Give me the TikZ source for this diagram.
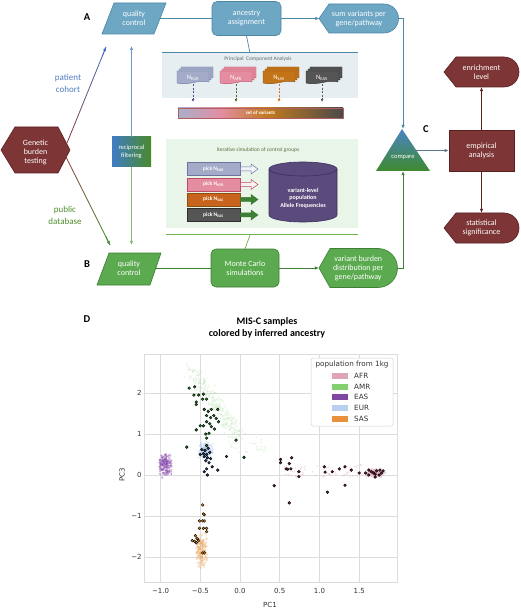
\documentclass[tikz,border=0pt]{standalone}
\usepackage{fontspec}
\setmainfont{Carlito}
\newfontfamily\dejavu{DejaVu Sans}
\usetikzlibrary{arrows.meta,calc}

\definecolor{bfill}{HTML}{6DA7C4}
\definecolor{bline}{HTML}{4B86A6}
\definecolor{gfill}{HTML}{5BAA4F}
\definecolor{gline}{HTML}{3D7F35}
\definecolor{rfill}{HTML}{7D3535}
\definecolor{rline}{HTML}{5A2020}
\definecolor{pcabg}{HTML}{E6EEF1}
\definecolor{simbg}{HTML}{E9F5E8}
\definecolor{simline}{HTML}{6DB04E}
\definecolor{simtxt}{HTML}{5A7040}
\definecolor{eurF}{HTML}{A3ABC9}
\definecolor{eurD}{HTML}{6C74A4}
\definecolor{eurAF}{HTML}{F0F3F8}
\definecolor{afrF}{HTML}{E48CA0}
\definecolor{afrD}{HTML}{C04A68}
\definecolor{afrAF}{HTML}{FBEFF2}
\definecolor{sasF}{HTML}{C47418}
\definecolor{sasP}{HTML}{C8641E}
\definecolor{sasD}{HTML}{8A5010}
\definecolor{easF}{HTML}{555555}
\definecolor{easD}{HTML}{2E2E2E}
\definecolor{cylF}{HTML}{5B4A7C}
\definecolor{cylD}{HTML}{3C2E5C}
\definecolor{vbA}{HTML}{A8B0CC}
\definecolor{vbB}{HTML}{E28EA2}
\definecolor{vbC}{HTML}{C27A1E}
\definecolor{vbD}{HTML}{4A4A4A}
\definecolor{barD}{HTML}{B06060}
\definecolor{cblue}{HTML}{4F7EC0}
\definecolor{cgreen}{HTML}{4E8E2E}
\definecolor{redA}{HTML}{8A3A3A}
\definecolor{blueA}{HTML}{3F6FC0}
\definecolor{greenA}{HTML}{3E8A2A}
\definecolor{cmpB}{HTML}{4A84C4}
\definecolor{cmpG}{HTML}{3E8A2E}
\definecolor{cmpArrow}{HTML}{5C7A8E}
\definecolor{recB}{HTML}{3F7CC4}
\definecolor{recG}{HTML}{4A8A2A}
\definecolor{recArrB}{HTML}{6A9AD0}
\definecolor{recArrG}{HTML}{80C070}
\definecolor{dEURa}{HTML}{5A4A8A}
\definecolor{dAFRa}{HTML}{4A6A20}
\definecolor{dSASa}{HTML}{D07020}
\definecolor{dEASa}{HTML}{505A60}
\definecolor{gridc}{HTML}{DCDCDC}
\definecolor{tickc}{HTML}{333333}
\definecolor{legD}{HTML}{D0D0D0}
\definecolor{lAFR}{HTML}{DFA4B5}
\definecolor{lAMR}{HTML}{84D070}
\definecolor{lEAS}{HTML}{8048A0}
\definecolor{lEUR}{HTML}{B8D0EC}
\definecolor{lSAS}{HTML}{E8903A}
\definecolor{cAFR}{HTML}{E0A0B4}
\definecolor{cAMR}{HTML}{98D888}
\definecolor{cEAS}{HTML}{8A50B0}
\definecolor{cEUR}{HTML}{A8C4E8}
\definecolor{cSAS}{HTML}{ECA050}
\definecolor{dAMR}{HTML}{1E7A1E}
\definecolor{dEUR}{HTML}{1E3A6A}
\definecolor{dSAS}{HTML}{E08A20}
\definecolor{dAFR}{HTML}{6A1E36}

\pgfdeclarehorizontalshading{varbar}{100bp}{color(0bp)=(vbA); color(25bp)=(vbA); color(38bp)=(vbB); color(52bp)=(vbC); color(75bp)=(vbD); color(100bp)=(vbD)}

\newcommand\mycard[4]{\filldraw[fill=#3,draw=#4,line width=0.4pt] ({#1},{#2}) -- ({#1+32},{#2}) -- ({#1+32},{#2+11}) .. controls ({#1+22},{#2+8}) and ({#1+12},{#2+15}) .. ({#1},{#2+12}) -- cycle;}

\begin{document}
\begin{tikzpicture}[x=1pt,y=-1pt,
  txt/.style={text=white,align=center,inner sep=0pt,font=\fontsize{8}{9}\selectfont},
  arr/.style={-{Latex[length=4pt,width=3.4pt]},line width=0.7pt},
  darr/.style={-{Latex[length=3pt,width=3pt]},line width=0.8pt,dash pattern=on 2pt off 1.5pt},
  lbl/.style={font=\fontsize{10.5}{12}\selectfont\bfseries},
  tiny/.style={font=\fontsize{5.5}{6}\selectfont},
  pick/.style={minimum width=53pt,minimum height=13pt,inner sep=0pt,line width=0.6pt,text=white,font=\fontsize{5.5}{6}\selectfont\bfseries},
  tick/.style={font=\dejavu\fontsize{7}{8}\selectfont,text=tickc,inner sep=0pt},
  cloud/.style={opacity=0.3},
  samp/.style={draw=black,line width=0.4pt},
]
\useasboundingbox (0,0) rectangle (520,609);
\fill[white] (0,0) rectangle (520,609);

% ---------- panel labels
\node[lbl] (lA) at (87,17) {A};
\node[lbl] (lB) at (87,264) {B};
\node[lbl] (lC) at (426,129) {C};
\node[lbl] (lD) at (87,319) {D};

% ---------- PCA panel
\node[fill=pcabg,minimum width=196pt,minimum height=45pt,inner sep=0pt] (pca) at (260,75.5) {};
\draw[bline,line width=1.2pt] (pca.north west) -- (pca.north east);
\node[tiny,text=black!60] (pcaT) at (258,59) {Principal\ \ Component Analysis};
\foreach \x/\f/\d/\n/\ac in {177/eurF/eurD/EUR/dEURa, 220/afrF/afrD/AFR/dAFRa, 263/sasF/sasD/SAS/dSASa, 306/easF/easD/EAS/dEASa}{
  \mycard{\x+4}{67}{\f}{\d}
  \mycard{\x+2}{69}{\f}{\d}
  \mycard{\x}{71}{\f}{\d}
  \node[text=white,font=\fontsize{6.5}{7}\selectfont,minimum width=32pt,minimum height=13pt,inner sep=0pt] (n\n) at ({\x+16},77.5) {N\textsubscript{\n}};
  \coordinate (e\n) at ({\x+16},102);
  \draw[darr,\ac] (n\n.south) -- (e\n);
}
\node[shade,shading=varbar,draw=barD,line width=0.5pt,minimum width=165pt,minimum height=10pt,inner sep=0pt,text=white,font=\fontsize{5}{6}\selectfont\bfseries] (bar) at (260.5,113) {set of variants};

% ---------- simulation panel
\node[fill=simbg,minimum width=192pt,minimum height=89pt,inner sep=0pt] (sim) at (262,183.5) {};
\draw[simline,line width=1.2pt] ([yshift=-6pt]sim.south west) -- ([yshift=-6pt]sim.south east);
\node[tiny,text=simtxt] (simT) at (258,150) {iterative simulation of control groups};
\foreach \n/\y/\f/\d/\af/\ad in {EUR/169/eurF/eurD/eurAF/eurD, AFR/184.5/afrF/afrD/afrAF/afrD, SAS/199.5/sasP/sasD/gline/gline, EAS/215/easF/easD/gline/gline}{
  \node[pick,fill=\f,draw=\d] (p\n) at (213.5,\y) {pick N\textsubscript{\n}};
  \filldraw[fill=\af,draw=\ad,line width=0.5pt] (240.5,{\y-2}) -- (251,{\y-2}) -- (251,{\y-5}) -- (258,\y) -- (251,{\y+5}) -- (251,{\y+2}) -- (240.5,{\y+2}) -- cycle;
}
% cylinder
\fill[cylF] (269,169) -- (269,215) .. controls (269,218.9) and (284.2,222) .. (303,222) .. controls (321.8,222) and (337,218.9) .. (337,215) -- (337,169) -- cycle;
\draw[cylD,line width=0.6pt] (269,169) -- (269,215) .. controls (269,218.9) and (284.2,222) .. (303,222) .. controls (321.8,222) and (337,218.9) .. (337,215) -- (337,169);
\filldraw[fill=cylF,draw=cylD,line width=0.6pt] (303,169) ellipse[x radius=34,y radius=7];
\node[text=white,font=\fontsize{6}{7.5}\selectfont\bfseries,align=center,inner sep=0pt] (cyl) at (303,198) {variant-level\\population\\Allele Frequencies};

% ---------- top row
\filldraw[fill=bfill,draw=bline,line width=0.6pt] (102,34) -- (114,3) -- (166,3) -- (154,34) -- cycle;
\node[txt,minimum width=52pt,minimum height=31pt] (qcA) at (134,18.5) {quality\\control};
\node[txt,draw=bline,fill=bfill,line width=0.6pt,rounded corners=5pt,minimum width=69pt,minimum height=34pt] (anc) at (246.5,18.5) {ancestry\\assignment};
\filldraw[fill=bfill,draw=bline,line width=0.6pt] (319,18.5) -- (329,4) -- (384,4) .. controls (392,4) and (398.5,10.5) .. (398.5,18.5) .. controls (398.5,26.5) and (392,33) .. (384,33) -- (329,33) -- cycle;
\node[txt,minimum width=79pt,minimum height=29pt] (sumA) at (359,18.5) {sum variants per\\gene/pathway};
\coordinate (pcaIn) at (250,53);
\draw[bline,line width=0.7pt] (anc.south) -- (pcaIn);
\draw[bline,line width=0.7pt] (qcA.east) -- (anc.west);
\draw[arr,bline] (anc.east) -- (sumA.west);

% ---------- compare
\shade[top color=cmpB,bottom color=cmpG] (402,129) -- (430,171) -- (376,171) -- cycle;
\node[minimum width=54pt,minimum height=42pt,inner sep=0pt] (cmp) at (403,150) {};
\node[txt,font=\fontsize{6.5}{7}\selectfont] (cmpT) at (403,157) {compare};
\coordinate (cmpR) at (416,150.5);
\draw[arr,bline] (sumA.east) -| (cmp.north);

% ---------- C side
\node[txt,draw=rline,fill=rfill,line width=0.6pt,minimum width=65pt,minimum height=41pt] (emp) at (481.5,150.5) {empirical\\analysis};
\draw[arr,cmpArrow] (cmpR) -- (emp.west);
\filldraw[fill=rfill,draw=rline,line width=0.6pt] (444,72) -- (456,57) -- (504,57) .. controls (512.3,57) and (519,63.7) .. (519,72) .. controls (519,80.3) and (512.3,87) .. (504,87) -- (456,87) -- cycle;
\node[txt,minimum width=74pt,minimum height=30pt] (enr) at (481.5,72) {enrichment\\level};
\filldraw[fill=rfill,draw=rline,line width=0.6pt] (444,228) -- (456,213) -- (504,213) .. controls (512.3,213) and (519,219.7) .. (519,228) .. controls (519,236.3) and (512.3,243) .. (504,243) -- (456,243) -- cycle;
\node[txt,minimum width=74pt,minimum height=30pt] (stat) at (481.5,228) {statistical\\significance};
\draw[arr,rline] (emp.north) -- (enr.south);
\draw[arr,rline] (emp.south) -- (stat.north);

% ---------- genetic burden testing
\filldraw[fill=rfill,draw=rline,line width=0.6pt] (1,150) -- (15,127) -- (58,127) -- (70,150) -- (58,173) -- (15,173) -- cycle;
\node[txt] (gen) at (35.5,152) {Genetic\\burden\\testing};
\coordinate (gA) at (67,143);
\coordinate (qA) at (106,47);
\coordinate (gB) at (66,157);
\coordinate (qB) at (110,245);
\foreach \i in {0,...,11}{
  \pgfmathsetmacro\ta{\i/12}
  \pgfmathsetmacro\tb{(\i+1)/12}
  \pgfmathtruncatemacro\mixp{100*(\i+0.5)/12}
  \draw[line width=0.8pt,line cap=round,color=blueA!\mixp!redA] ($(gA)!\ta!(qA)$) -- ($(gA)!\tb!(qA)$);
  \draw[line width=0.8pt,line cap=round,color=greenA!\mixp!redA] ($(gB)!\ta!(qB)$) -- ($(gB)!\tb!(qB)$);
}
\draw[arr,blueA] ($(gA)!0.9!(qA)$) -- (qA);
\draw[arr,greenA] ($(gB)!0.9!(qB)$) -- (qB);
\node[font=\fontsize{9}{12}\selectfont,text=cblue,align=center] (pc) at (68,83) {patient\\cohort};
\node[font=\fontsize{9}{12}\selectfont,text=cgreen,align=center] (pdb) at (65,215) {public\\database};

% ---------- reciprocal filtering
\node[txt,font=\fontsize{6.5}{8}\selectfont,left color=recB,right color=recG,minimum width=39pt,minimum height=30pt] (rec) at (131.5,152) {reciprocal\\filtering};
\coordinate (rqA) at (131.5,46);
\coordinate (rqB) at (131.5,245);
\draw[arr,recArrB] (rec.north) -- (rqA);
\draw[arr,recArrG] (rec.south) -- (rqB);

% ---------- bottom row
\filldraw[fill=gfill,draw=gline,line width=0.6pt] (97,285) -- (109,253) -- (161,253) -- (150,285) -- cycle;
\node[txt,minimum width=52pt,minimum height=32pt] (qcB) at (129,268) {quality\\control};
\node[txt,draw=gline,fill=gfill,line width=0.6pt,rounded corners=5pt,minimum width=68pt,minimum height=38pt] (mc) at (245,268) {Monte Carlo\\simulations};
\filldraw[fill=gfill,draw=gline,line width=0.6pt] (319,268) -- (330,248.5) -- (378,248.5) .. controls (388.8,248.5) and (397.5,257.2) .. (397.5,268) .. controls (397.5,278.8) and (388.8,287.5) .. (378,287.5) -- (330,287.5) -- cycle;
\node[txt,minimum width=78.5pt,minimum height=39pt] (vb) at (358.25,268) {variant burden\\distribution per\\gene/pathway};
\coordinate (simIn) at (250,235);
\draw[simline,line width=0.7pt] (mc.north) -- (simIn);
\draw[gline,line width=0.7pt] (qcB.east) -- (mc.west);
\draw[arr,gline] (mc.east) -- (vb.west);
\draw[arr,gline] (vb.east) -| (cmp.south);

% ---------- panel D
\node[font=\fontsize{10}{12}\selectfont\bfseries,align=center] (title) at (267,328) {MIS-C samples\\colored by inferred ancestry};

\begin{scope}[shift={(240pt,-475pt)},x=79.5pt,y=41pt]
  \foreach \gx in {-1,-0.5,...,1.5} \draw[gridc,line width=0.8pt] (\gx,-2.61) -- (\gx,2.95);
  \foreach \gy in {-2,...,2} \draw[gridc,line width=0.8pt] (-1.208,\gy) -- (1.975,\gy);
  \draw[gridc,line width=0.8pt] (-1.208,-2.61) rectangle (1.975,2.95);
  \begin{scope}
    \clip (-1.208,-2.61) rectangle (1.975,2.95);
    \pgfmathsetseed{7}
    % AMR cloud
    \foreach \i in {1,...,260}{
      \pgfmathsetmacro\tt{(rand+1)/2}
      \pgfmathsetmacro\px{-0.62+0.62*\tt+0.06*(rand+rand)}
      \pgfmathsetmacro\py{2.55-1.65*\tt+0.12*(rand+rand)}
      \fill[cAMR,opacity=0.22] (\px,\py) circle[radius=1pt];
    }
    \foreach \i in {1,...,30}{
      \pgfmathsetmacro\px{0.1+0.25*rand}
      \pgfmathsetmacro\py{0.75+0.2*rand}
      \fill[cAMR,opacity=0.22] (\px,\py) circle[radius=1pt];
    }
    % EAS cloud
    \foreach \i in {1,...,240}{
      \pgfmathsetmacro\px{-0.94+0.06*rand+0.03*rand}
      \pgfmathsetmacro\py{0.25+0.17*(rand+rand)}
      \fill[cEAS,opacity=0.4] (\px,\py) circle[radius=1pt];
    }
    % SAS cloud
    \foreach \i in {1,...,220}{
      \pgfmathsetmacro\px{-0.48+0.04*(rand+rand)}
      \pgfmathsetmacro\py{-1.85+0.24*(rand+rand)}
      \fill[cSAS,cloud] (\px,\py) circle[radius=1pt];
    }
    % EUR cloud
    \foreach \i in {1,...,160}{
      \pgfmathsetmacro\px{-0.43+0.05*(rand+rand)}
      \pgfmathsetmacro\py{0.6+0.12*(rand+rand)}
      \fill[cEUR,opacity=0.4] (\px,\py) circle[radius=1pt];
    }
    % AFR cloud
    \foreach \i in {1,...,170}{
      \pgfmathsetmacro\px{1.7+0.07*(rand+rand)}
      \pgfmathsetmacro\py{0.05+0.06*(rand+rand)}
      \fill[cAFR,cloud] (\px,\py) circle[radius=1pt];
    }
    \foreach \i in {1,...,60}{
      \pgfmathsetmacro\px{1.05+0.5*rand}
      \pgfmathsetmacro\py{0.1+0.15*rand}
      \fill[cAFR,cloud] (\px,\py) circle[radius=1pt];
    }
    % samples
    \foreach \a/\b in {-0.57/2.15,-0.64/2.12,-0.58/1.95,-0.52/1.95,-0.46/1.97,-0.42/1.85,-0.47/1.85,-0.55/1.78,-0.55/1.72,-0.45/1.6,-0.40/1.55,-0.36/1.6,-0.28/1.6,-0.42/1.45,-0.37/1.4,-0.33/1.45,-0.30/1.38,-0.42/1.3,-0.38/1.25,-0.27/1.3,-0.46/1.2,-0.36/1.18,-0.32/1.12,-0.55/1.1,-0.5/1.2,-0.43/1.0,-0.39/1.02,-0.42/0.9,-0.67/0.68,-0.05/0.85,0.05/0.43,-0.42/0.72}
      \filldraw[fill=dAMR,samp] (\a,\b) circle[radius=1.4pt];
    \foreach \a/\b in {-0.48/0.62,-0.44/0.6,-0.40/0.65,-0.46/0.52,-0.42/0.5,-0.38/0.55,-0.5/0.5,-0.45/0.45,-0.41/0.42,-0.37/0.4,-0.43/0.35,-0.39/0.3,-0.35/0.2,-0.42/0.15,-0.45/0.08,-0.41/0.0,-0.28/0.12,-0.17/0.45}
      \filldraw[fill=dEUR,samp] (\a,\b) circle[radius=1.4pt];
    \foreach \a/\b in {-0.47/-0.73,-0.45/-0.97,-0.46/-0.95,-0.51/-1.12,-0.47/-1.12,-0.45/-1.12,-0.46/-1.3,-0.42/-1.3,-0.42/-1.38,-0.51/-1.3,-0.56/-1.48,-0.54/-1.55,-0.60/-1.6,-0.57/-1.62,-0.55/-1.65,-0.52/-1.6,-0.47/-1.9,-0.45/-1.9}
      \filldraw[fill=dSAS,samp] (\a,\b) circle[radius=1.4pt];
    \foreach \a/\b in {0.51/0.38,0.51/0.3,0.58/0.15,0.6/0.14,0.62/0.28,0.65/0.42,0.64/0.15,0.74/0.08,0.74/-0.04,0.43/-0.26,0.62/-0.68,1.06/0.2,1.07/0.07,1.1/-0.42,1.16/0.08,1.25/0.15,1.32/0.2,1.32/-0.25,1.4/0.12,1.5/0.05,1.58/0.05,1.62/0.0,1.65/0.08,1.68/0.05,1.7/0.02,1.72/0.1,1.75/0.0,1.78/0.05,1.8/0.1,1.7/-0.05,1.62/0.12,1.76/0.12}
      \filldraw[fill=dAFR,samp] (\a,\b) circle[radius=1.4pt];
  \end{scope}
  \foreach \gx/\t [count=\k] in {-1/−1.0,-0.5/−0.5,0/0.0,0.5/0.5,1/1.0,1.5/1.5}
    \node[tick] (xt\k) at (\gx,-2.83) {\t};
  \foreach \gy/\t [count=\k] in {-2/−2,-1/−1,0/0,1/1,2/2}
    \node[tick,anchor=east] (yt\k) at (-1.235,\gy) {\t};
  \node[tick] (xl) at (0.377,-3.17) {PC1};
  \node[tick,rotate=90] (yl) at (-1.484,0) {PC3};
\end{scope}

% legend
\node[draw=legD,fill=white,rounded corners=1.5pt,minimum width=82pt,minimum height=68pt,inner sep=0pt,line width=0.5pt] (leg) at (352,392) {};
\node[font=\dejavu\fontsize{7.2}{8}\selectfont,text=tickc,inner sep=0pt] (legT) at (352,365) {population from 1kg};
\foreach \n/\y/\c in {AFR/376/lAFR, AMR/386.5/lAMR, EAS/397/lEAS, EUR/408/lEUR, SAS/419/lSAS}{
  \node[fill=\c,minimum width=16pt,minimum height=6pt,inner sep=0pt] (lp\n) at (340,\y) {};
  \node[font=\dejavu\fontsize{7.2}{8}\selectfont,text=tickc,anchor=west,inner sep=0pt] (lt\n) at (354,\y) {\n};
}
\end{tikzpicture}
\end{document}
